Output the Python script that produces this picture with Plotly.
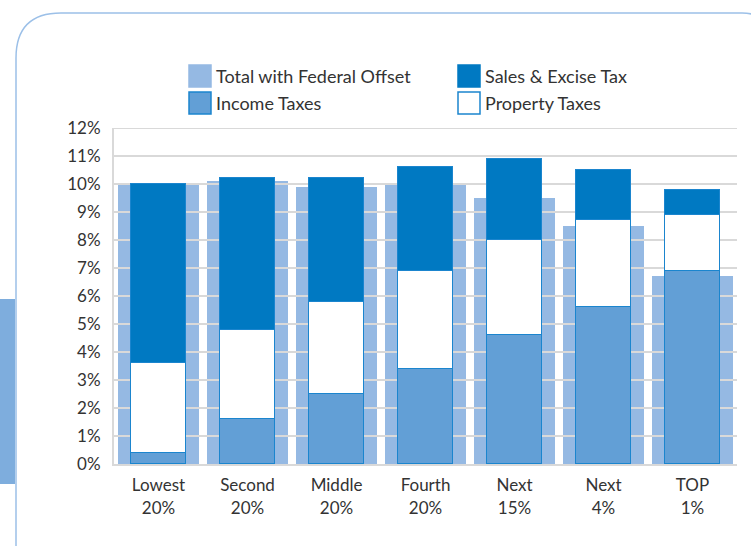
import plotly.graph_objects as go

# data (percent of income)
CATEGORIES = ["Lowest<br>20%", "Second<br>20%", "Middle<br>20%", "Fourth<br>20%",
              "Next<br>15%", "Next<br>4%", "TOP<br>1%"]
TOTAL_WITH_OFFSET = [10.0, 10.1, 9.9, 10.0, 9.5, 8.5, 6.7]
INCOME_TAXES = [0.4, 1.6, 2.5, 3.4, 4.6, 5.6, 6.9]
PROPERTY_TAXES = [3.2, 3.2, 3.3, 3.5, 3.4, 3.1, 2.0]
SALES_EXCISE = [6.4, 5.4, 4.4, 3.7, 2.9, 1.8, 0.9]
Y_TICKS = list(range(0, 13))
Y_TICK_LABELS = [f"{t}%" for t in Y_TICKS]
LEGEND = [("Total with Federal Offset", "total"), ("Income Taxes", "income"),
          ("Sales & Excise Tax", "sales"), ("Property Taxes", "property")]

LIGHT = "#95B9E3"
INCOME_C = "#629FD6"
SALES_C = "#0079C2"
EDGE = "#1B85CE"
GRID = "#D9D9D9"
TEXT = "#333333"
FONT = "Lato"

W, H = 751, 546
L, R, T, B = 114, 14, 128, 82
PW, PH = W - L - R, H - T - B

x = list(range(len(CATEGORIES)))


def px(v):
    return (v - L) / PW


def py(v):
    return (H - B - v) / PH


fig = go.Figure()

fig.add_trace(go.Bar(x=x, y=TOTAL_WITH_OFFSET, width=0.92, name="Total with Federal Offset",
                     marker=dict(color=LIGHT, line_width=0), yaxis="y"))

# grid drawn over the wide bars but under the stacked ones
gx, gy = [], []
for t in Y_TICKS[1:]:
    gx += [-0.5, len(x) - 0.5, None]
    gy += [t, t, None]
fig.add_trace(go.Scatter(x=gx, y=gy, mode="lines", line=dict(color=GRID, width=2),
                         hoverinfo="skip", yaxis="y"))

for vals, name, fill in [(INCOME_TAXES, "Income Taxes", INCOME_C),
                         (PROPERTY_TAXES, "Property Taxes", "white"),
                         (SALES_EXCISE, "Sales & Excise Tax", SALES_C)]:
    fig.add_trace(go.Bar(x=x, y=vals, width=0.62, name=name, yaxis="y2",
                         marker=dict(color=fill, line=dict(color=EDGE, width=1.5))))

shapes = []
annotations = []

# rounded frame and the tab on the left edge
frame = "M {},{} L {},{} Q {},{} {},{} L {},{} Q {},{} {},{} L {},{}".format(
    px(16), py(560), px(16), py(58), px(16), py(13), px(61), py(13),
    px(742), py(13), px(770), py(13), px(770), py(41), px(770), py(560))
shapes.append(dict(type="path", path=frame, xref="paper", yref="paper",
                   line=dict(color="#9CC0E8", width=1.5), layer="below"))
shapes.append(dict(type="rect", xref="paper", yref="paper", x0=px(0), x1=px(15),
                   y0=py(484), y1=py(299), fillcolor="#7EADDD", line_width=0, layer="below"))

# legend, two columns
styles = {"total": (LIGHT, LIGHT), "income": (INCOME_C, EDGE),
          "sales": (SALES_C, SALES_C), "property": ("white", EDGE)}
spots = [(189, 65), (189, 92), (458, 65), (458, 92)]
for (label, key), (sx, sy) in zip(LEGEND, spots):
    fill, edge = styles[key]
    shapes.append(dict(type="rect", xref="paper", yref="paper",
                       x0=px(sx), x1=px(sx + 22), y0=py(sy + 22), y1=py(sy),
                       fillcolor=fill, line=dict(color=edge, width=1.5)))
    annotations.append(dict(text=label, xref="paper", yref="paper", x=px(sx + 25), y=py(sy + 11),
                            xanchor="left", yanchor="middle", showarrow=False,
                            font=dict(family=FONT, size=18, color=TEXT)))

fig.update_layout(
    width=W, height=H,
    margin=dict(l=L, r=R, t=T, b=B),
    paper_bgcolor="white", plot_bgcolor="white",
    barmode="stack", bargap=0, showlegend=False,
    font=dict(family=FONT, size=17, color=TEXT),
    xaxis=dict(range=[-0.5, len(x) - 0.5], tickvals=x, ticktext=CATEGORIES,
               showgrid=False, zeroline=False, showline=True, linecolor=GRID, linewidth=2,
               ticks="", ticklabelstandoff=5, fixedrange=True),
    yaxis=dict(range=[0, 12], tickvals=Y_TICKS, ticktext=Y_TICK_LABELS, showgrid=False,
               zeroline=False, showline=True, linecolor=GRID, linewidth=2,
               ticks="", ticklabelstandoff=8, fixedrange=True),
    yaxis2=dict(range=[0, 12], overlaying="y", visible=False, fixedrange=True),
    shapes=shapes, annotations=annotations,
)

# the page's default body margin would push the figure 8px down and right
fig.write_html("out.html", config={"displayModeBar": False},
               post_script="document.body.style.margin='0';")
